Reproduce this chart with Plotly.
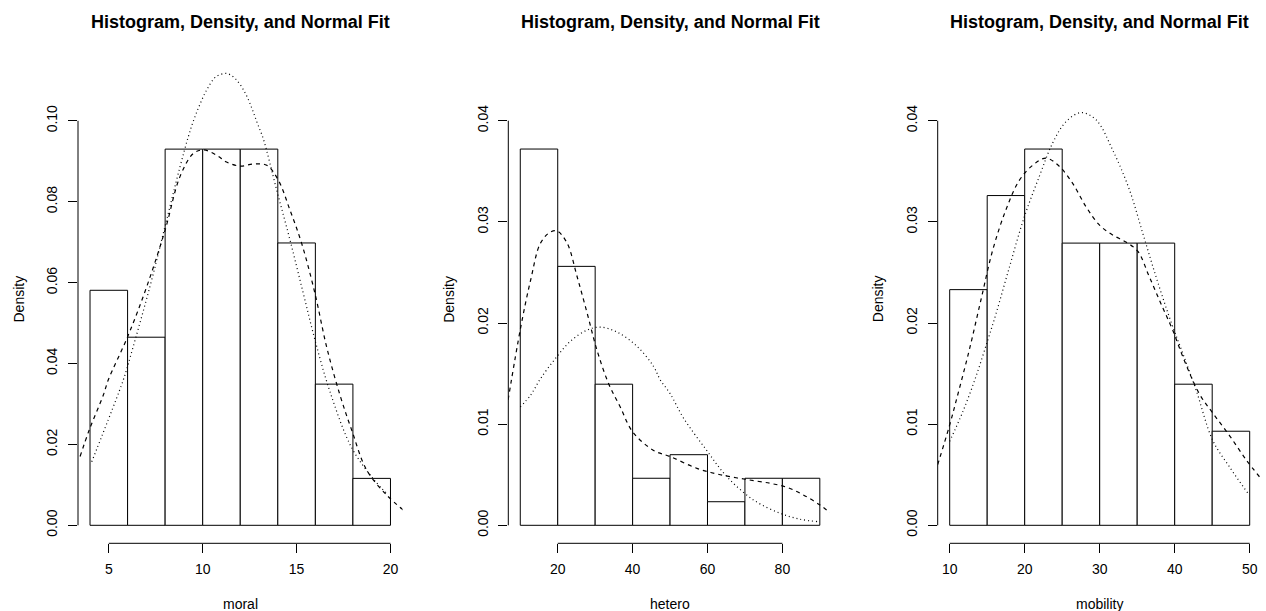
import plotly.graph_objects as go

# ---------------- data ----------------
titles = ["Histogram, Density, and Normal Fit"] * 3
xlabels = ["moral", "hetero", "mobility"]

# histogram bins (left edges, width) and densities
moral_breaks = [4, 6, 8, 10, 12, 14, 16, 18, 20]
moral_density = [0.0581, 0.0465, 0.0930, 0.0930, 0.0930, 0.0698, 0.0349, 0.0116]
hetero_breaks = [10, 20, 30, 40, 50, 60, 70, 80, 90]
hetero_density = [0.0372, 0.0256, 0.01395, 0.00465, 0.00698, 0.00233, 0.00465, 0.00465]
mobility_breaks = [10, 15, 20, 25, 30, 35, 40, 45, 50]
mobility_density = [0.0233, 0.0326, 0.0372, 0.0279, 0.0279, 0.0279, 0.01395, 0.0093]

# kernel density curves (dashed)
moral_kde_x = [3.47, 3.96, 4.71, 4.97, 6.0, 7.02, 8.0, 8.79, 9.5, 10.03, 10.74, 11.27, 11.99,
               12.7, 13.41, 14.03, 14.65, 15.27, 15.98, 16.6, 17.31, 17.93, 18.73, 19.79, 20.68]
moral_kde_y = [0.0170, 0.0236, 0.0322, 0.0359, 0.0466, 0.0590, 0.0730, 0.0862, 0.0919, 0.0928,
               0.0915, 0.0898, 0.0888, 0.0893, 0.0890, 0.0853, 0.0779, 0.0697, 0.0573, 0.0441,
               0.0322, 0.0236, 0.0137, 0.0075, 0.0038]
hetero_kde_x = [6.75, 10.13, 12.8, 15.4, 18.06, 19.84, 22.5, 25.17, 27.84, 30.5, 33.6, 36.7, 40.0,
                45.6, 50.0, 57.17, 63.4, 70.07, 76.74, 81.17, 85.6, 90.05, 92.7]
hetero_kde_y = [0.0124, 0.0196, 0.0243, 0.0279, 0.0290, 0.0291, 0.0279, 0.0246, 0.0210, 0.0173,
                0.0140, 0.0117, 0.00925, 0.0074, 0.0068, 0.00563, 0.0050, 0.00455, 0.00415,
                0.00376, 0.0030, 0.0020, 0.00125]
mobility_kde_x = [8.4, 9.95, 11.0, 12.6, 14.17, 15.73, 17.5, 19.28, 21.07, 22.84, 24.6, 26.4, 28.17,
                  29.95, 31.73, 33.5, 35.07, 36.6, 38.17, 39.73, 41.28, 43.28, 45.07, 47.28, 49.5, 51.3]
mobility_kde_y = [0.0060, 0.0098, 0.0127, 0.0173, 0.0223, 0.0272, 0.0312, 0.0341, 0.0356, 0.0363,
                  0.0355, 0.0338, 0.0315, 0.0297, 0.0287, 0.0280, 0.0271, 0.0246, 0.0219, 0.0193,
                  0.0163, 0.0130, 0.0111, 0.0089, 0.0065, 0.0048]

# normal fit curves (dotted)
moral_norm_x = [4.09, 5.77, 6.04, 7.19, 7.99, 8.79, 9.23, 9.50, 9.82, 10.21, 10.71, 11.28, 11.76,
                12.25, 12.61, 12.91, 13.23, 13.94, 14.65, 15.36, 15.98, 16.78, 17.93, 19.08, 19.88]
moral_norm_y = [0.0157, 0.0359, 0.0400, 0.0590, 0.0738, 0.0886, 0.0960, 0.0999, 0.1037, 0.1076,
                0.1109, 0.1117, 0.1103, 0.1070, 0.1032, 0.0994, 0.0955, 0.0829, 0.0705, 0.0573,
                0.0458, 0.0330, 0.0192, 0.0115, 0.0075]
hetero_norm_x = [10.0, 12.8, 15.4, 19.4, 23.4, 27.84, 31.4, 35.84, 41.17, 45.6, 47.4, 50.05, 53.6,
                 59.8, 65.2, 72.3, 79.4, 84.7, 89.6]
hetero_norm_y = [0.0117, 0.0129, 0.0145, 0.0165, 0.0182, 0.0193, 0.0196, 0.0191, 0.0177, 0.0157,
                 0.01437, 0.0130, 0.0106, 0.0074, 0.0048, 0.0025, 0.00119, 0.0006, 0.00036]
mobility_norm_x = [10.0, 11.73, 13.5, 15.07, 16.17, 17.95, 19.95, 21.95, 23.73, 25.5, 27.5, 29.5,
                   31.73, 33.95, 35.73, 37.5, 39.28, 41.07, 42.84, 45.07, 47.28, 49.73]
mobility_norm_y = [0.0083, 0.0112, 0.0147, 0.0183, 0.0209, 0.0255, 0.0305, 0.0345, 0.0378, 0.0399,
                   0.0408, 0.0401, 0.0371, 0.0332, 0.0289, 0.0246, 0.0206, 0.0170, 0.0134, 0.0084,
                   0.0058, 0.0032]

# axis ticks
moral_xticks = [5, 10, 15, 20]
hetero_xticks = [20, 40, 60, 80]
mobility_xticks = [10, 20, 30, 40, 50]
moral_yticks = [0.00, 0.02, 0.04, 0.06, 0.08, 0.10]
moral_ytext = ["0.00", "0.02", "0.04", "0.06", "0.08", "0.10"]
other_yticks = [0.00, 0.01, 0.02, 0.03, 0.04]
other_ytext = ["0.00", "0.01", "0.02", "0.03", "0.04"]

# ---------------- layout geometry ----------------
W, H = 1266, 611
FONT = "Liberation Sans, Arial, Helvetica, sans-serif"

panels = [
    dict(breaks=moral_breaks, dens=moral_density, kx=moral_kde_x, ky=moral_kde_y,
         nx=moral_norm_x, ny=moral_norm_y, xt=moral_xticks, yt=moral_yticks, ytt=moral_ytext,
         px=(78.0, 402.5), xr=[3.36, 20.64], yr=[-0.00445, 0.1157]),
    dict(breaks=hetero_breaks, dens=hetero_density, kx=hetero_kde_x, ky=hetero_kde_y,
         nx=hetero_norm_x, ny=hetero_norm_y, xt=hetero_xticks, yt=other_yticks, ytt=other_ytext,
         px=(508.3, 831.8), xr=[6.8, 93.2], yr=[-0.00178, 0.04627]),
    dict(breaks=mobility_breaks, dens=mobility_density, kx=mobility_kde_x, ky=mobility_kde_y,
         nx=mobility_norm_x, ny=mobility_norm_y, xt=mobility_xticks, yt=other_yticks, ytt=other_ytext,
         px=(937.7, 1261.7), xr=[8.4, 51.6], yr=[-0.00178, 0.04627]),
]

top_px, bot_px = 57.3, 543.3
ydom = [(H - bot_px) / H, (H - top_px) / H]

fig = go.Figure()
layout = dict(width=W, height=H, margin=dict(l=0, r=0, t=0, b=0),
              paper_bgcolor="white", plot_bgcolor="white", showlegend=False,
              font=dict(family=FONT, color="black", size=14))
shapes = []
annotations = []

for i, p in enumerate(panels):
    n = "" if i == 0 else str(i + 1)
    xa, ya = "x" + n, "y" + n
    b = p["breaks"]
    centers = [(b[k] + b[k + 1]) / 2 for k in range(len(b) - 1)]
    widths = [b[k + 1] - b[k] for k in range(len(b) - 1)]
    fig.add_trace(go.Bar(x=centers, y=p["dens"], width=widths, xaxis=xa, yaxis=ya,
                         marker=dict(color="white", line=dict(color="black", width=1)),
                         hoverinfo="skip"))
    fig.add_trace(go.Scatter(x=p["kx"], y=p["ky"], mode="lines", xaxis=xa, yaxis=ya,
                             line=dict(color="black", width=1.2, dash="4px,4px", shape="spline"),
                             hoverinfo="skip"))
    fig.add_trace(go.Scatter(x=p["nx"], y=p["ny"], mode="lines", xaxis=xa, yaxis=ya,
                             line=dict(color="black", width=1.2, dash="1px,3px", shape="spline"),
                             hoverinfo="skip"))
    x0, x1 = p["px"]
    layout["xaxis" + n] = dict(domain=[x0 / W, x1 / W], range=p["xr"], anchor=ya,
                               showgrid=False, zeroline=False, showline=False,
                               ticks="outside", ticklen=9, tickwidth=1, tickcolor="black",
                               tickvals=p["xt"], ticktext=[str(v) for v in p["xt"]],
                               tickfont=dict(size=14, family=FONT, color="black"),
                               ticklabelstandoff=4, fixedrange=True)
    layout["yaxis" + n] = dict(domain=ydom, range=p["yr"], anchor=xa,
                               showgrid=False, zeroline=False, showline=False,
                               ticks="outside", ticklen=9, tickwidth=1, tickcolor="black",
                               tickvals=p["yt"], ticktext=p["ytt"], tickangle=-90,
                               tickfont=dict(size=14, family=FONT, color="black"),
                               ticklabelstandoff=5, fixedrange=True)
    # axis lines spanning first to last tick (R style)
    shapes.append(dict(type="line", xref=xa, yref=ya + " domain", x0=p["xt"][0], x1=p["xt"][-1],
                       y0=0, y1=0, line=dict(color="black", width=1)))
    shapes.append(dict(type="line", xref=xa + " domain", yref=ya, x0=0, x1=0,
                       y0=p["yt"][0], y1=p["yt"][-1], line=dict(color="black", width=1)))
    # titles and axis labels
    cx = (x0 + x1) / 2 / W
    annotations.append(dict(text="<b>" + titles[i] + "</b>", xref="paper", yref="paper",
                            x=cx, y=(H - 22) / H, xanchor="center", yanchor="middle",
                            showarrow=False, font=dict(size=18, family=FONT, color="black")))
    annotations.append(dict(text=xlabels[i], xref="paper", yref="paper",
                            x=cx, y=(H - 603.5) / H, xanchor="center", yanchor="middle",
                            showarrow=False, font=dict(size=14, family=FONT, color="black")))
    annotations.append(dict(text="Density", xref="paper", yref="paper", textangle=-90,
                            x=(x0 - 59.5) / W, y=(H - 299) / H, xanchor="center", yanchor="middle",
                            showarrow=False, font=dict(size=14, family=FONT, color="black")))

layout["shapes"] = shapes
layout["annotations"] = annotations
fig.update_layout(**layout)
fig.write_html("out.html")
